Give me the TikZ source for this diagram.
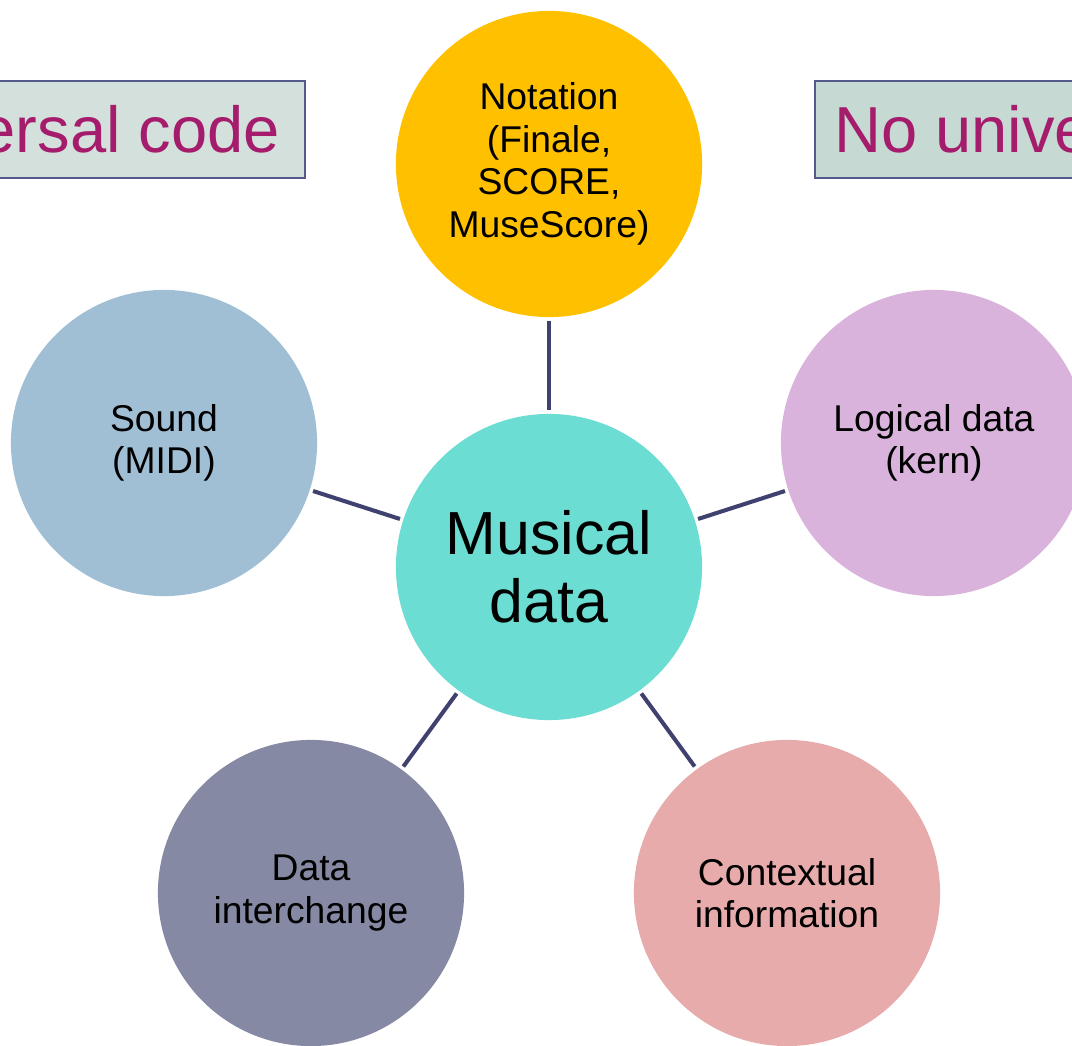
\documentclass[tikz,border=0pt]{standalone}
\usepackage{fontspec}
\setmainfont{Liberation Sans}
\definecolor{notationcol}{HTML}{FFC000}
\definecolor{soundcol}{HTML}{A0BFD4}
\definecolor{logiccol}{HTML}{D9B3DC}
\definecolor{musiccol}{HTML}{6CDDD3}
\definecolor{interchcol}{HTML}{8589A4}
\definecolor{contextcol}{HTML}{E8ABAB}
\definecolor{linkcol}{HTML}{3F416E}
\definecolor{boxline}{HTML}{555A8C}
\definecolor{codetext}{HTML}{A51C6C}
\definecolor{leftbox}{HTML}{D3E0DB}
\definecolor{rightbox}{HTML}{C6D9D3}

\begin{document}
\begin{tikzpicture}[x=0.01cm, y=-0.01cm,
  every node/.style={align=center},
  bubble/.style={circle, minimum size=3.06cm, inner sep=0pt, font=\fontsize{10.6}{12.1}\selectfont},
  codebox/.style={draw=boxline, line width=0.6pt, text=codetext, minimum height=0.97cm, inner ysep=0pt, font=\fontsize{18.5}{22}\selectfont},
  link/.style={draw=linkcol, line width=1.15pt, shorten <=0.8pt, shorten >=0.8pt}]
  % -=-=-=-=- SLIDE AREA -=-=-=-=-
  \useasboundingbox (0,0) rectangle (1072,1046);
  \clip (0,0) rectangle (1072,1046);
  % -=-=-=-=- CODE BOXES -=-=-=-=-
  \node[codebox, fill=leftbox, anchor=east, inner xsep=0.25cm] (left) at (306,129.5) {Universal code};
  \node[codebox, fill=rightbox, anchor=west, inner xsep=0.19cm] (right) at (814,129.5) {No universal code};
  % -=-=-=-=- BUBBLES -=-=-=-=-
  \node[bubble, fill=musiccol, font=\fontsize{17.3}{19.4}\selectfont] (music) at (549,567) {Musical\\data};
  \node[bubble, fill=notationcol] (notation) at (549,164) {Notation\\(Finale,\\SCORE,\\MuseScore)};
  \node[bubble, fill=soundcol] (sound) at (164,443) {Sound\\(MIDI)};
  \node[bubble, fill=logiccol] (logic) at (934,443) {Logical data\\(kern)};
  \node[bubble, fill=interchcol] (interch) at (311,893) {Data\\interchange};
  \node[bubble, fill=contextcol] (context) at (787,893) {Contextual\\information};
  % -=-=-=-=- LINKS -=-=-=-=-
  \draw[link] (notation) -- (music);
  \draw[link] (sound) -- (music);
  \draw[link] (logic) -- (music);
  \draw[link] (interch) -- (music);
  \draw[link] (context) -- (music);
\end{tikzpicture}
\end{document}
